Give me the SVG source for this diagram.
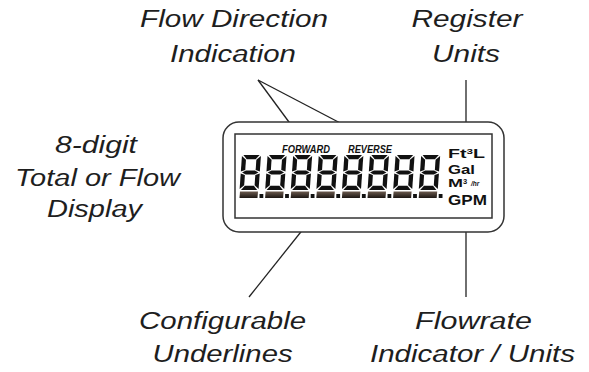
<svg xmlns="http://www.w3.org/2000/svg" xmlns:xlink="http://www.w3.org/1999/xlink" width="589" height="372" viewBox="0 0 589 372">
<style>
.lbl{font-family:"Liberation Sans",Arial,sans-serif;font-style:italic;font-size:23px;fill:#1e1e1e;text-anchor:middle}
.conn{stroke:#222;stroke-width:1.3;fill:none;marker-end:url(#ah)}
.frame{fill:#fff;stroke:#333;stroke-width:1.5}
.seg{fill:#111}
.unit{font-family:"Liberation Sans",Arial,sans-serif;font-weight:bold;fill:#111}
.dir{font-family:"Liberation Sans",Arial,sans-serif;font-weight:bold;font-style:italic;font-size:10px;fill:#111}
</style>
<defs>
<marker id="ah" viewBox="0 0 10 8" refX="10" refY="4" markerWidth="10" markerHeight="7" markerUnits="userSpaceOnUse" orient="auto">
<path d="M0,0 L10,4 L0,8 Z" fill="#222"/>
</marker>
<linearGradient id="ul" x1="0" y1="0" x2="0" y2="1">
<stop offset="0" stop-color="#6b5a4e"/>
<stop offset="1" stop-color="#1c1612"/>
</linearGradient>
<g id="digit">
<g transform="skewX(-4)">
<path class="seg" d="M1.4,0 H17.6 L14,4.3 H5 Z"/>
<path class="seg" d="M1.4,35 H17.6 L14,30.7 H5 Z"/>
<path class="seg" d="M0,1 L4.3,4.8 V15 L0,16.6 Z"/>
<path class="seg" d="M19,1 L14.7,4.8 V15 L19,16.6 Z"/>
<path class="seg" d="M0,18.4 L4.3,20 V30.2 L0,34 Z"/>
<path class="seg" d="M19,18.4 L14.7,20 V30.2 L19,34 Z"/>
<path class="seg" d="M1.3,17.5 L5,15.4 H14 L17.7,17.5 L14,19.6 H5 Z"/>
</g>
<path d="M-2,36.5 H16 L15.5,43 H-2.5 Z" fill="url(#ul)"/>
<rect x="17.5" y="39" width="3.8" height="4" fill="#111"/>
</g>
</defs>
<rect width="589" height="372" fill="#fff"/>

<g id="connectors">
<line class="conn" x1="258" y1="80" x2="300" y2="137"/>
<line class="conn" x1="258" y1="80" x2="367" y2="137"/>
<line class="conn" x1="466" y1="80" x2="466" y2="137"/>
<line class="conn" x1="466" y1="297" x2="466" y2="218"/>
<line class="conn" x1="249" y1="297" x2="308" y2="223"/>
</g>

<g id="lcd">
<rect class="frame" x="223" y="122" width="281" height="110" rx="16"/>
<rect class="frame" x="235" y="134" width="257" height="84"/>
<text class="dir" x="282" y="153" textLength="48" lengthAdjust="spacingAndGlyphs">FORWARD</text>
<text class="dir" x="348" y="153" textLength="44" lengthAdjust="spacingAndGlyphs">REVERSE</text>
<use xlink:href="#digit" x="242" y="155"/>
<use xlink:href="#digit" x="267.6" y="155"/>
<use xlink:href="#digit" x="293.2" y="155"/>
<use xlink:href="#digit" x="318.8" y="155"/>
<use xlink:href="#digit" x="344.4" y="155"/>
<use xlink:href="#digit" x="370" y="155"/>
<use xlink:href="#digit" x="395.6" y="155"/>
<use xlink:href="#digit" x="421.2" y="155"/>
<text class="unit" x="448" y="158" font-size="13.5" textLength="37" lengthAdjust="spacingAndGlyphs">Ft<tspan font-size="8" dy="-4.5">3</tspan><tspan dy="4.5">L</tspan></text>
<text class="unit" x="448" y="174" font-size="13.5" textLength="27" lengthAdjust="spacingAndGlyphs">Gal</text>
<text class="unit" x="448" y="187" font-size="11" textLength="15" lengthAdjust="spacingAndGlyphs">M</text>
<text class="unit" x="463" y="183.5" font-size="7.5">3</text>
<text class="unit" x="471" y="186" font-size="6.5" font-weight="normal" font-style="italic">/hr</text>
<text class="unit" x="448" y="204.5" font-size="14" textLength="39" lengthAdjust="spacingAndGlyphs">GPM</text>
</g>

<g id="label-flow-direction">
<text class="lbl" x="234" y="27" textLength="188" lengthAdjust="spacingAndGlyphs">Flow Direction</text>
<text class="lbl" x="233" y="62" textLength="126" lengthAdjust="spacingAndGlyphs">Indication</text>
</g>

<g id="label-register-units">
<text class="lbl" x="467" y="27" textLength="111" lengthAdjust="spacingAndGlyphs">Register</text>
<text class="lbl" x="466" y="62" textLength="68" lengthAdjust="spacingAndGlyphs">Units</text>
</g>

<g id="label-display">
<text class="lbl" x="96" y="153" textLength="82" lengthAdjust="spacingAndGlyphs">8-digit</text>
<text class="lbl" x="97.5" y="186" textLength="165" lengthAdjust="spacingAndGlyphs">Total or Flow</text>
<text class="lbl" x="94.5" y="217" textLength="95" lengthAdjust="spacingAndGlyphs">Display</text>
</g>

<g id="label-underlines">
<text class="lbl" x="222.6" y="329" textLength="167" lengthAdjust="spacingAndGlyphs">Configurable</text>
<text class="lbl" x="222.6" y="362" textLength="140" lengthAdjust="spacingAndGlyphs">Underlines</text>
</g>

<g id="label-flowrate">
<text class="lbl" x="473.5" y="329" textLength="117" lengthAdjust="spacingAndGlyphs">Flowrate</text>
<text class="lbl" x="472.5" y="362" textLength="205" lengthAdjust="spacingAndGlyphs">Indicator / Units</text>
</g>
</svg>
